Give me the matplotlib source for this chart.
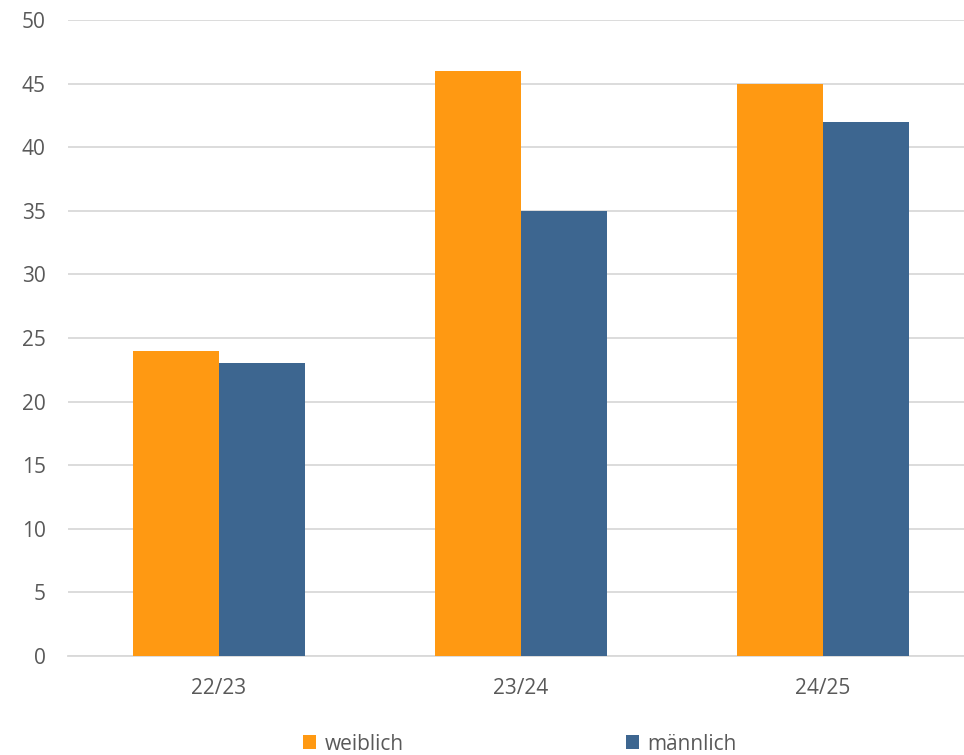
import matplotlib.pyplot as plt
import numpy as np

seasons = ["22/23", "23/24", "24/25"]
weiblich = [24, 46, 45]
maennlich = [23, 35, 42]

plt.rcParams['font.family'] = ['Open Sans', 'DejaVu Sans']

fig = plt.figure(figsize=(9.64, 7.55), dpi=100)
ax = fig.add_axes([68/964, 99/755, 896/964, 636/755])

x = np.arange(len(seasons))
w = 0.285
ax.bar(x - w/2, weiblich, w, color="#FF9912", label="weiblich", zorder=3)
ax.bar(x + w/2, maennlich, w, color="#3D6690", label="männlich", zorder=3)

ax.set_xlim(-0.5, -0.5 + 896/302)
ax.set_ylim(0, 50)
ax.set_yticks(range(0, 51, 5))
ax.set_xticks(x)
ax.set_xticklabels(seasons)
ax.grid(axis='y', color="#D9D9D9", linewidth=1.3, zorder=0)
ax.set_axisbelow(True)
for s in ['top', 'right', 'left']:
    ax.spines[s].set_visible(False)
ax.spines['bottom'].set_color("#D9D9D9")
ax.spines['bottom'].set_linewidth(1.3)
ax.tick_params(axis='both', length=0, labelsize=15, colors="#595959")
ax.tick_params(axis='x', pad=16)
ax.tick_params(axis='y', pad=16)

fig.legend(loc='center', bbox_to_anchor=(520/964, 1 - 744/755), ncol=2, frameon=False,
           fontsize=15, labelcolor="#595959", handlelength=0.62, handleheight=0.62,
           handletextpad=0.4, columnspacing=10.7)

fig.savefig("out.png", dpi=100)
